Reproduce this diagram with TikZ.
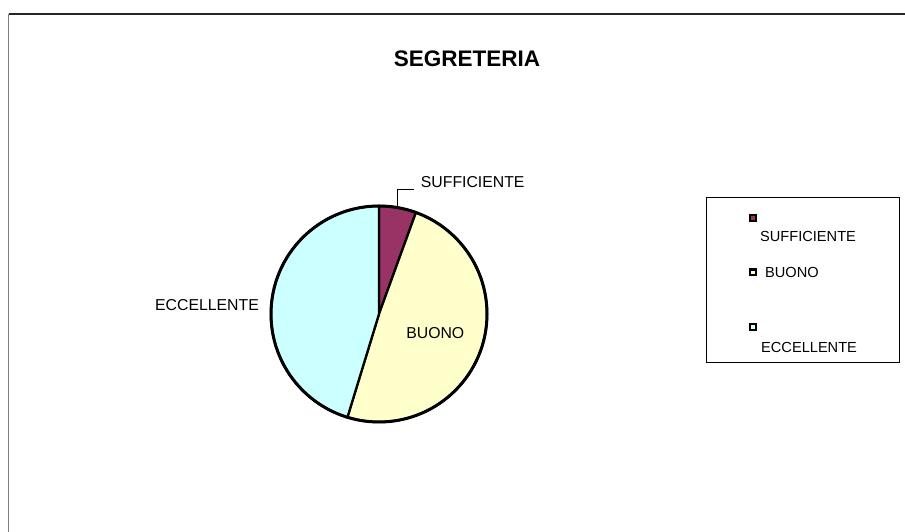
\documentclass[tikz,border=0pt]{standalone}
\usepackage{fontspec}
\setmainfont{Liberation Sans}
\usetikzlibrary{positioning,calc}
\definecolor{plum}{HTML}{993366}
\definecolor{paleyellow}{HTML}{FFFFCC}
\definecolor{paleblue}{HTML}{CCFFFF}

\begin{document}
\begin{tikzpicture}[x=1pt,y=1pt,
	slice/.style={draw=black,line width=2.3pt},
	lbl/.style={font=\fontsize{15.8}{18}\selectfont,inner sep=0pt},
	leg/.style={font=\fontsize{14.6}{17}\selectfont,inner sep=0pt,anchor=west},
	key/.style={draw=black,line width=2.4pt,minimum size=5.6pt,inner sep=0pt}]
\useasboundingbox (0,0) rectangle (905,532);

%frame
\draw[gray,line width=1.4pt] (8.5,0) -- (8.5,518);
\draw[black!85,line width=1.4pt] (8.5,518) -- (905,518);

\node[font=\bfseries\fontsize{22.5}{26}\selectfont,inner sep=0pt] (title) at (467,473) {SEGRETERIA};

%pie
\coordinate (c) at (379,218);
\filldraw[fill=plum,slice] (c) -- ++(90:108) arc[start angle=90,end angle=70,radius=108] -- cycle;
\filldraw[fill=paleyellow,slice] (c) -- ++(70:108) arc[start angle=70,end angle=-107,radius=108] -- cycle;
\filldraw[fill=paleblue,slice] (c) -- ++(-107:108) arc[start angle=-107,end angle=-270,radius=108] -- cycle;
\draw[line width=3pt] (c) circle[radius=108];

\node[lbl,anchor=west] (lblsuff) at (420.7,350.3) {SUFFICIENTE};
\node[lbl] (lblbuono) at (435.3,199.2) {BUONO};
\node[lbl] (lblecc) at (207,227) {ECCELLENTE};
\coordinate (suffedge) at ($(c)+(80:108)$);
\draw[line width=1.1pt] (suffedge) |- ([xshift=-6.4pt,yshift=-7.6pt]lblsuff.west);

%legend
\node[draw=black,line width=0.9pt,minimum width=192.6pt,minimum height=165.4pt,inner sep=0pt] (legend) at (803,252) {};
\node[key,fill=plum] (keysuff) at (753,314) {};
\node[key,fill=paleyellow] (keybuono) at (753,259.5) {};
\node[key,fill=paleblue] (keyecc) at (753,205) {};
\node[leg] (legsuff) at (760,296) {SUFFICIENTE};
\node[leg,right=8pt of keybuono.east] (legbuono) {BUONO};
\node[leg] (legecc) at (761,184.5) {ECCELLENTE};

\end{tikzpicture}
\end{document}
